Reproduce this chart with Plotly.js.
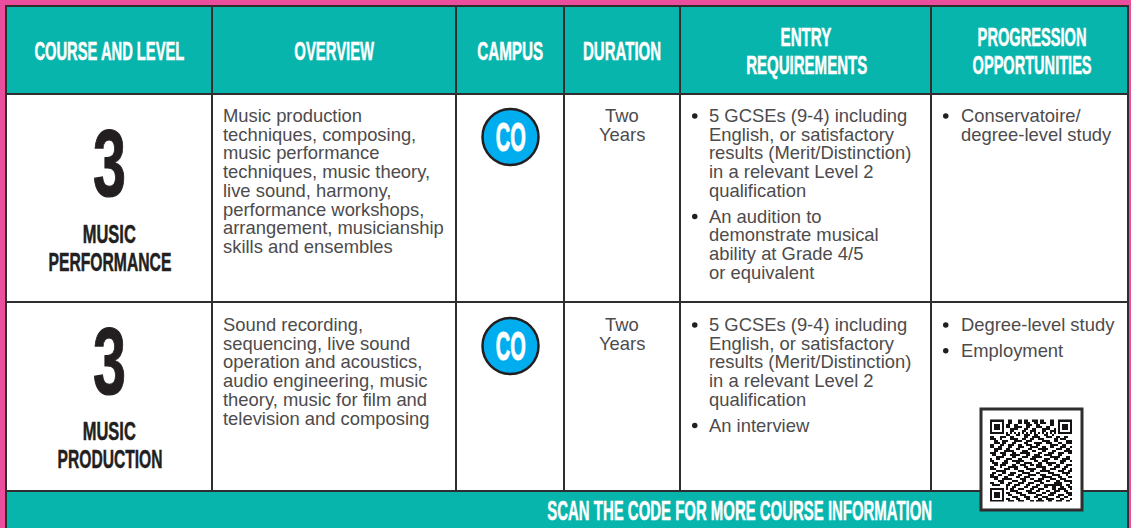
<!DOCTYPE html>
<html><head><meta charset="utf-8">
<script src="https://cdn.plot.ly/plotly-3.0.1.min.js"></script>
<style>html,body{margin:0;padding:0;background:#fff;overflow:hidden}#c{width:1131px;height:528px}</style>
</head><body><div id="c"></div>
<script>
// ---- data ----
const headerLines=[['COURSE AND LEVEL'],['OVERVIEW'],['CAMPUS'],['DURATION'],['ENTRY','REQUIREMENTS'],['PROGRESSION','OPPORTUNITIES']];
const courses=[['MUSIC','PERFORMANCE'],['MUSIC','PRODUCTION']];
const levels=['3','3'];
const campus=['CO','CO'];
const duration=[['Two','Years'],['Two','Years']];
const footer='SCAN THE CODE FOR MORE COURSE INFORMATION';
const overview=[
 ['Music production','techniques, composing,','music performance','techniques, music theory,','live sound, harmony,','performance workshops,','arrangement, musicianship','skills and ensembles'],
 ['Sound recording,','sequencing, live sound','operation and acoustics,','audio engineering, music','theory, music for film and','television and composing']];
const entry=[[['5 GCSEs (9-4) including','English, or satisfactory','results (Merit/Distinction)','in a relevant Level 2','qualification'],['An audition to','demonstrate musical','ability at Grade 4/5','or equivalent']],
 [['5 GCSEs (9-4) including','English, or satisfactory','results (Merit/Distinction)','in a relevant Level 2','qualification'],['An interview']]];
const progression=[[['Conservatoire/','degree-level study']],[['Degree-level study'],['Employment']]];
const qrRows=[
'11111110011000110110011101100011001111111',
'10000010011000110111001101110011001000001',
'10111010110011000011100110000011001011101',
'10111010110011110011000111001100001011101',
'10111010001111000110011000111100101011101',
'10000010001100001100111000110011101000001',
'11111110101010101010101010101010101111111',
'00000000110001100111001100011001000000000',
'11000111001100000110011110001110011001100',
'11100100001111001100110011100000110111000',
'00110011100011110011100000111100110000111',
'00111011000110000110001111001110001100111',
'11000110011100110011100110000011110011000',
'11001100011000111000111100110011000111001',
'00111100110001100001100011111000011100110',
'00110001111100001110011000110001100001111',
'11100111000110011111000011000111001110011',
'01100011001111100011001110011110001100000',
'00011110000110001110011111000011111000110',
'10011000111000110000111000011100110011110',
'11000001100111111000001100111000000111001',
'01110011100001100111100011001111100110000',
'00110111000110011100110111000110011000111',
'11000100011111000110000111110000111001100',
'11100001110011000011111000110011100011001',
'00011111000000111000110001111100001110011',
'01100011001110001111000110000111000011110',
'11001100011100110001111001110001111000100',
'11110001100001100111000000111110001100011',
'00110011111000011100110011100011100111000',
'00001110000111001100001111001100011001111',
'11000110011000111001110001100000111100001',
'01111000110011100011000110011111111100110',
'00000000100110000110011100011001100110011',
'11111110101100111000110011100001101111001',
'10000010001111000011100110001100111001100',
'10111010110001110001111000110011100000111',
'10111010011000011100000111000111001110011',
'10111010000111000111001100111000011001100',
'10000010110001100011000011001111000110001',
'11111110011100111000110111100110011100110'];
// ---- layout ----
const PINK='#ec4e9e',TEAL='#07b5ac',LINE='#2f2d2e',BODY='#4d4b4c',DARK='#231f20',BLUE='#00aeef';
const HEAD="'Liberation Sans',sans-serif",TXT="'Liberation Sans',sans-serif";
const colEdges=[6,212,456,564,680,931,1128];
const rowEdges=[6,94,302,491];
const headerX=[109,334,510,622,806,1032];
const headerW=[[150],[80],[66],[78],[51,121],[109,119]];
const courseW=[[53,123],[53,105]];
const rowTop=[115.5,324.5];
const LH=18.7,FS=18.4;
const ann=[],shapes=[];
function T(x,y,text,size,color,font,anchor,fit){
  ann.push({x,y,xref:'x',yref:'y',text,showarrow:false,xanchor:anchor||'center',yanchor:'middle',align:anchor||'center',
    borderpad:0,borderwidth:0,font:{family:font,size,color,weight:fit?'bold':'normal'},_fit:fit});
}
function R(x0,y0,x1,y1,fill,line,w){shapes.push({type:'rect',x0,y0,x1,y1,xref:'x',yref:'y',fillcolor:fill,line:{color:line||fill,width:line?w:0},layer:'below'});}
function L(x0,y0,x1,y1,w){shapes.push({type:'line',x0,y0,x1,y1,xref:'x',yref:'y',line:{color:LINE,width:w||2},layer:'below'});}
R(0,0,1131,528,PINK);
R(6,6,1128,94,TEAL);R(6,94,1128,491,'#fff');R(6,491,1128,528,TEAL);
colEdges.forEach(x=>L(x,5,x,491));
L(6,491,6,528);L(1128,491,1128,528);
rowEdges.forEach(y=>L(5,y,1129,y));
headerLines.forEach((h,i)=>h.forEach((t,j)=>{
  const y=h.length>1?37+j*28:51;
  T(headerX[i],y,t,25,'#fff',HEAD,'center',{w:headerW[i][j],stroke:0.5});
}));
T(739.5,511,footer,27,'#fff',HEAD,'center',{w:385,stroke:0.5});
[0,1].forEach(r=>{
 const top=rowTop[r];
 T(109,r?361:162.5,levels[r],95,DARK,HEAD,'center',{w:33,stroke:1.2});
 courses[r].forEach((t,j)=>T(109.5,(r?430.5:233.5)+j*28,t,25,DARK,HEAD,'center',{w:courseW[r][j],stroke:0.5}));
 overview[r].forEach((l,i)=>T(223,top+i*LH,l,FS,BODY,TXT,'left'));
 shapes.push({type:'circle',x0:482.5,x1:538.5,y0:top-6.5,y1:top+49.5,xref:'x',yref:'y',line:{color:DARK,width:2.5},fillcolor:BLUE,layer:'below'});
 T(510.5,top+21.5,campus[r],41,'#fff',HEAD,'center',{w:30,stroke:1});
 duration[r].forEach((t,j)=>T(622,top+j*19,t,FS,BODY,TXT));
 let y=top;
 entry[r].forEach(b=>{shapes.push({type:'circle',x0:692,x1:697.5,y0:y-2.25,y1:y+3.25,xref:'x',yref:'y',fillcolor:DARK,line:{width:0},layer:'below'});b.forEach(l=>{T(709,y,l,FS,BODY,TXT,'left');y+=LH});y+=7;});
 y=top;
 progression[r].forEach(b=>{shapes.push({type:'circle',x0:943,x1:948.5,y0:y-2.25,y1:y+3.25,xref:'x',yref:'y',fillcolor:DARK,line:{width:0},layer:'below'});b.forEach(l=>{T(961,y,l,FS,BODY,TXT,'left');y+=LH});y+=7;});
});
R(981,409,1082,510,'#fff',LINE,3);
const qr={type:'heatmap',z:qrRows.map(s=>s.split('').map(Number)),x0:991,dx:2,y0:420.5,dy:2,zmin:0,zmax:1,showscale:false,hoverinfo:'skip',
  colorscale:[[0,'#ffffff'],[1,'#141213']]};
const fits=ann.map(a=>{const f=a._fit;delete a._fit;return f;});
Plotly.newPlot('c',[qr],{width:1131,height:528,margin:{l:0,r:0,t:0,b:0},paper_bgcolor:'#fff',plot_bgcolor:'rgba(0,0,0,0)',showlegend:false,
 xaxis:{range:[0,1131],visible:false,fixedrange:true},yaxis:{range:[528,0],visible:false,fixedrange:true},shapes,annotations:ann},{displayModeBar:false,staticPlot:true}).then(gd=>{
  fits.forEach((f,i)=>{ if(!f) return;
    const el=gd.querySelector('.annotation[data-index="'+i+'"] text'); if(!el) return;
    const b=el.getBBox(),cx=b.x+b.width/2,s=f.w/b.width;
    el.setAttribute('transform','translate('+cx+',0) scale('+s+',1) translate('+(-cx)+',0)');
    el.style.stroke=ann[i].font.color;el.style.strokeWidth=f.stroke+'px';
  });
});
</script></body></html>
